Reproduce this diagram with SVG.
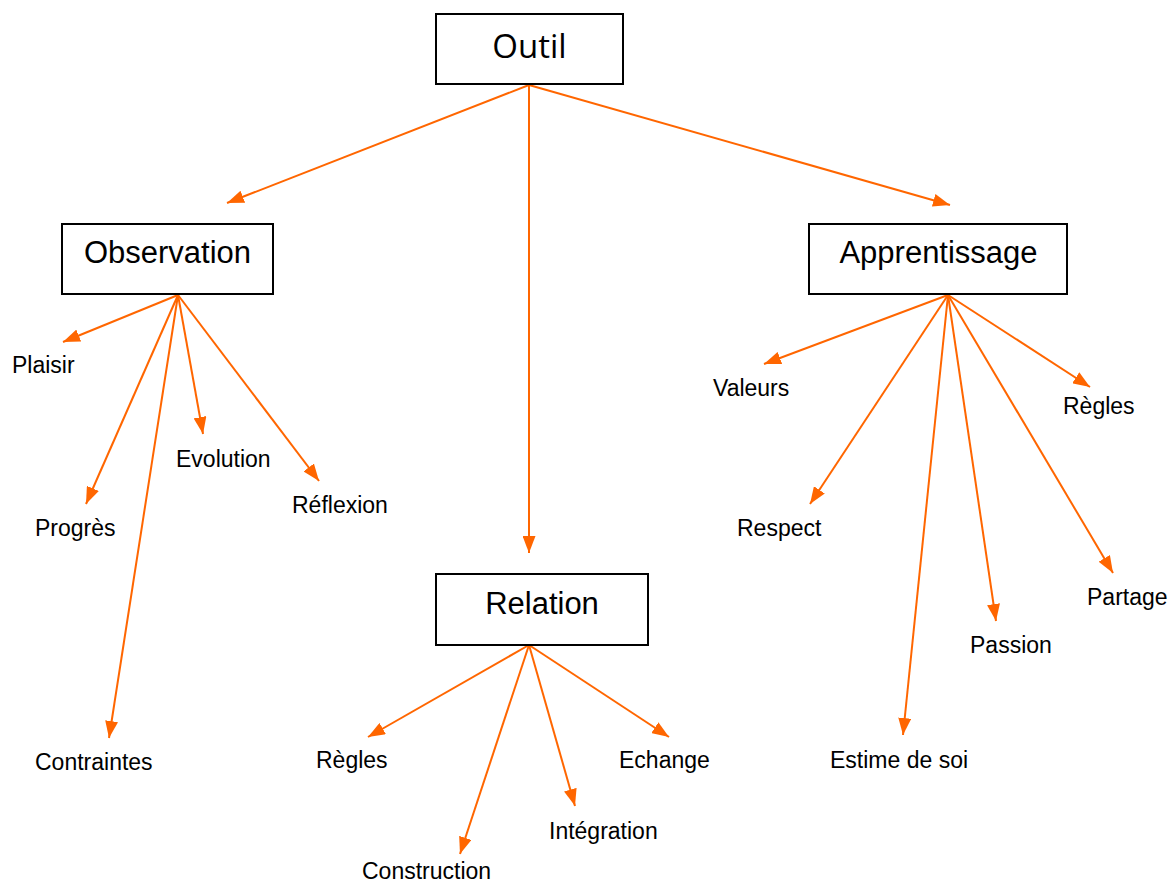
<svg xmlns="http://www.w3.org/2000/svg" width="1171" height="885" viewBox="0 0 1171 885">
<style>
.box{fill:#fff;stroke:#000;stroke-width:2}
.title{font-family:"Liberation Sans",Arial,sans-serif;font-size:31px;fill:#000;text-anchor:middle}
.top{font-family:"Open Sans","Noto Sans",sans-serif;font-size:33px;fill:#000;text-anchor:middle}
.lbl{font-family:"Liberation Sans",Arial,sans-serif;font-size:23px;fill:#000}
.c{stroke:#FF6600;stroke-width:2;fill:none;marker-end:url(#ah)}
</style>
<defs>
<marker id="ah" viewBox="0 0 17 13" markerWidth="17" markerHeight="13" refX="17" refY="6.5" orient="auto" markerUnits="userSpaceOnUse">
<path d="M0,0 L17,6.5 L0,13 z" fill="#FF6600"/>
</marker>
</defs>
<rect width="1171" height="885" fill="#fff"/>
<g id="connectors">
<line class="c" x1="529" y1="85" x2="227" y2="203"/>
<line class="c" x1="529" y1="85" x2="529" y2="553"/>
<line class="c" x1="529" y1="85" x2="950" y2="205"/>
<line class="c" x1="178" y1="295" x2="63" y2="342"/>
<line class="c" x1="178" y1="295" x2="86" y2="504"/>
<line class="c" x1="178" y1="295" x2="203" y2="434"/>
<line class="c" x1="178" y1="295" x2="319" y2="481"/>
<line class="c" x1="178" y1="295" x2="109" y2="738"/>
<line class="c" x1="948" y1="295" x2="764" y2="364"/>
<line class="c" x1="948" y1="295" x2="810" y2="504"/>
<line class="c" x1="948" y1="295" x2="903" y2="735"/>
<line class="c" x1="948" y1="295" x2="996" y2="621"/>
<line class="c" x1="948" y1="295" x2="1113" y2="573"/>
<line class="c" x1="948" y1="295" x2="1090" y2="387"/>
<line class="c" x1="529" y1="645" x2="368" y2="737"/>
<line class="c" x1="529" y1="645" x2="460" y2="854"/>
<line class="c" x1="529" y1="645" x2="575" y2="806"/>
<line class="c" x1="529" y1="645" x2="669" y2="737"/>
</g>
<g id="outil"><rect class="box" x="436" y="14" width="187" height="70"/><text class="top" x="529.5" y="58">Outil</text></g>
<g id="observation"><rect class="box" x="62" y="224" width="211" height="70"/><text class="title" x="167.5" y="263">Observation</text></g>
<g id="apprentissage"><rect class="box" x="809" y="224" width="258" height="70"/><text class="title" x="938.5" y="263">Apprentissage</text></g>
<g id="relation"><rect class="box" x="436" y="574" width="212" height="71"/><text class="title" x="542" y="614">Relation</text></g>
<g id="plaisir"><text class="lbl" x="12" y="373">Plaisir</text></g>
<g id="progres"><text class="lbl" x="35" y="536">Progrès</text></g>
<g id="evolution"><text class="lbl" x="176" y="467">Evolution</text></g>
<g id="reflexion"><text class="lbl" x="292" y="513">Réflexion</text></g>
<g id="contraintes"><text class="lbl" x="35" y="770">Contraintes</text></g>
<g id="valeurs"><text class="lbl" x="713" y="396">Valeurs</text></g>
<g id="regles-a"><text class="lbl" x="1063" y="414">Règles</text></g>
<g id="respect"><text class="lbl" x="737" y="536">Respect</text></g>
<g id="partage"><text class="lbl" x="1087" y="605">Partage</text></g>
<g id="passion"><text class="lbl" x="970" y="653">Passion</text></g>
<g id="estime"><text class="lbl" x="830" y="768">Estime de soi</text></g>
<g id="regles-r"><text class="lbl" x="316" y="768">Règles</text></g>
<g id="construction"><text class="lbl" x="362" y="879">Construction</text></g>
<g id="integration"><text class="lbl" x="549" y="839">Intégration</text></g>
<g id="echange"><text class="lbl" x="619" y="768">Echange</text></g>
</svg>
